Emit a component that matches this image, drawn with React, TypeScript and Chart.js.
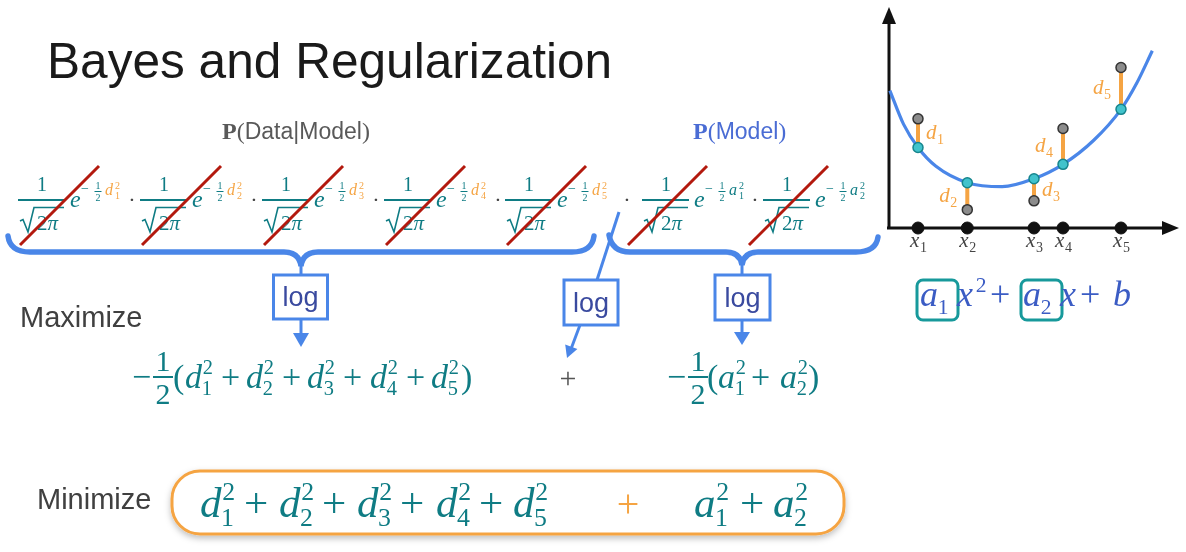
import React, { useEffect, useRef } from 'react';
import { Chart, registerables } from 'chart.js';

Chart.register(...registerables);

// ---- plot data (top-right sketch) ----
const sampleX = [1.0, 2.7, 5.0, 6.0, 8.0];
const observedY = [4.94, 0.83, 1.23, 4.5, 7.26];
const fittedY = [3.64, 2.05, 2.23, 2.88, 5.37];
const curveX = [0.03, 0.5, 1.0, 1.62, 2.7, 3.9, 5.0, 6.0, 7.06, 8.0, 8.54, 9.08];
const curveY = [6.22, 4.7, 3.64, 2.79, 2.05, 1.87, 2.23, 2.88, 3.97, 5.37, 6.55, 8.02];
const pointNames = ['1', '2', '3', '4', '5'];
const residualSide = ['right', 'left', 'right', 'left', 'left'];

const TEAL = '#0f7c84';
const ORANGE = '#f5a443';
const BLUE = '#4a86e8';
const RED = '#b3190e';
const SERIF = '"Liberation Serif", "DejaVu Serif", serif';
const SANS = '"Liberation Sans", Arial, sans-serif';

const axesPlugin = {
  id: 'axesArrows',
  beforeDatasetsDraw(chart: any) {
    const { ctx, chartArea } = chart;
    const { left, right, top, bottom } = chartArea;
    ctx.save();
    ctx.strokeStyle = '#111';
    ctx.fillStyle = '#111';
    ctx.lineWidth = 3;
    ctx.beginPath();
    ctx.moveTo(left - 2, bottom);
    ctx.lineTo(right - 12, bottom);
    ctx.moveTo(left, bottom + 1.5);
    ctx.lineTo(left, top + 12);
    ctx.stroke();
    ctx.beginPath();
    ctx.moveTo(right, bottom);
    ctx.lineTo(right - 17, bottom - 7);
    ctx.lineTo(right - 17, bottom + 7);
    ctx.closePath();
    ctx.fill();
    ctx.beginPath();
    ctx.moveTo(left, top);
    ctx.lineTo(left - 7, top + 17);
    ctx.lineTo(left + 7, top + 17);
    ctx.closePath();
    ctx.fill();
    ctx.restore();
  },
  afterDatasetsDraw(chart: any) {
    const { ctx, scales, chartArea } = chart;
    ctx.save();
    sampleX.forEach((xv, i) => {
      const px = scales.x.getPixelForValue(xv);
      // x_i under the axis
      ctx.fillStyle = '#444';
      ctx.font = `italic 21px ${SERIF}`;
      ctx.fillText('x', px - 8, chartArea.bottom + 19);
      ctx.font = `14px ${SERIF}`;
      ctx.fillText(pointNames[i], px + 2, chartArea.bottom + 24);
      // d_i next to the residual
      const mid = (scales.y.getPixelForValue(fittedY[i]) + scales.y.getPixelForValue(observedY[i])) / 2;
      const lx = residualSide[i] === 'right' ? px + 8 : px - 28;
      ctx.fillStyle = ORANGE;
      ctx.font = `italic 21px ${SERIF}`;
      ctx.fillText('d', lx, mid + 6);
      ctx.font = `14px ${SERIF}`;
      ctx.fillText(pointNames[i], lx + 11, mid + 11);
    });
    ctx.restore();
  },
};

function PlotChart() {
  const canvasRef = useRef<HTMLCanvasElement | null>(null);

  useEffect(() => {
    if (!canvasRef.current) return;
    const chart = new Chart(canvasRef.current, {
      type: 'scatter',
      data: {
        datasets: [
          {
            label: 'fitted',
            data: sampleX.map((x, i) => ({ x, y: fittedY[i] })),
            pointRadius: 5,
            pointBackgroundColor: '#41c3cc',
            pointBorderColor: '#16858d',
            pointBorderWidth: 1.5,
            order: 0,
            clip: false,
          },
          {
            label: 'observed',
            data: sampleX.map((x, i) => ({ x, y: observedY[i] })),
            pointRadius: 5,
            pointBackgroundColor: '#8c8c8c',
            pointBorderColor: '#333',
            pointBorderWidth: 1.5,
            order: 1,
            clip: false,
          },
          {
            label: 'inputs',
            data: sampleX.map((x) => ({ x, y: 0 })),
            pointRadius: 6,
            pointBackgroundColor: '#111',
            pointBorderColor: '#111',
            order: 2,
            clip: false,
          },
          {
            label: 'residuals',
            type: 'line',
            data: sampleX.flatMap((x, i) => [
              { x, y: fittedY[i] },
              { x, y: observedY[i] },
              { x, y: null },
            ]),
            borderColor: ORANGE,
            borderWidth: 4,
            pointRadius: 0,
            spanGaps: false,
            tension: 0,
            order: 3,
            clip: false,
          },
          {
            label: 'curve',
            type: 'line',
            data: curveX.map((x, i) => ({ x, y: curveY[i] })),
            borderColor: BLUE,
            borderWidth: 3.2,
            pointRadius: 0,
            cubicInterpolationMode: 'monotone',
            order: 4,
            clip: false,
          },
        ] as any,
      },
      options: {
        responsive: false,
        maintainAspectRatio: false,
        animation: false,
        events: [],
        layout: { padding: { left: 19, right: 3, top: 2, bottom: 32 } },
        scales: {
          x: { type: 'linear', min: 0, max: 10, display: false },
          y: { type: 'linear', min: 0, max: 10, display: false },
        },
        plugins: { legend: { display: false }, tooltip: { enabled: false } },
      },
      plugins: [axesPlugin],
    });
    return () => {
      chart.destroy();
    };
  }, []);

  return (
    <canvas
      ref={canvasRef}
      width={316}
      height={260}
      style={{ position: 'absolute', left: 870, top: 0, width: 316, height: 260 }}
    />
  );
}

// one "1/sqrt(2pi) e^{-1/2 v^2}" factor, crossed out
function Factor({ cx, name, idx, nameColor, slashFrom }: any) {
  return (
    <g fontFamily={SERIF}>
      <text x={cx} y={191} fontSize={20} textAnchor="middle" fill={TEAL}>1</text>
      <line x1={cx - 24} y1={200} x2={cx + 23} y2={200} stroke={TEAL} strokeWidth={2} />
      <polyline
        points={`${cx - 22},221 ${cx - 19},219.5 ${cx - 14},232 ${cx - 8},207.5 ${cx + 22},207.5`}
        fill="none"
        stroke={TEAL}
        strokeWidth={1.6}
      />
      <text x={cx - 5} y={230} fontSize={21} fill={TEAL}>
        2<tspan fontStyle="italic">π</tspan>
      </text>
      <text x={cx + 28} y={207} fontSize={24} fontStyle="italic" fill={TEAL}>e</text>
      <text x={cx + 39} y={193} fontSize={14} fill={TEAL}>−</text>
      <text x={cx + 56} y={189} fontSize={10} textAnchor="middle" fill={TEAL}>1</text>
      <line x1={cx + 52.5} y1={191.5} x2={cx + 59.5} y2={191.5} stroke={TEAL} strokeWidth={1} />
      <text x={cx + 56} y={201} fontSize={10} textAnchor="middle" fill={TEAL}>2</text>
      <text x={cx + 63} y={195} fontSize={16} fontStyle="italic" fill={nameColor}>{name}</text>
      <text x={cx + 73} y={189} fontSize={10} fill={nameColor}>2</text>
      <text x={cx + 73} y={198.5} fontSize={10} fill={nameColor}>{idx}</text>
      <line x1={cx + slashFrom} y1={245} x2={cx + slashFrom + 79} y2={166} stroke={RED} strokeWidth={3} />
    </g>
  );
}

function Scripted({ x, y, f, base, sup, sub, color }: any) {
  const sx = x + 0.52 * f;
  return (
    <g fill={color} fontFamily={SERIF}>
      <text x={x} y={y} fontSize={f} fontStyle="italic">{base}</text>
      {sup && <text x={sx} y={y - 0.4 * f} fontSize={0.6 * f}>{sup}</text>}
      {sub && <text x={sx - 0.03 * f} y={y + 0.22 * f} fontSize={0.6 * f}>{sub}</text>}
    </g>
  );
}

function Plain({ x, y, f, children, color, anchor }: any) {
  return (
    <text x={x} y={y} fontSize={f} fill={color} fontFamily={SERIF} textAnchor={anchor || 'start'}>
      {children}
    </text>
  );
}

function LogBox({ x, y, w, h }: any) {
  return (
    <g>
      <rect x={x} y={y} width={w} height={h} fill="#fff" stroke={BLUE} strokeWidth={3} />
      <text x={x + w / 2} y={y + h / 2 + 9} fontSize={27} textAnchor="middle" fill="#3a4a9f" fontFamily={SANS}>log</text>
    </g>
  );
}

const dFactorX = [42, 164, 286, 408, 529];
const aFactorX = [666, 787];
const dotX = [132, 254, 376, 498, 627, 755];
const midDX = [185, 246, 307, 370, 431];
const midPlusX = [221, 282, 343, 406];
const lowDX = [200, 279, 357, 436, 513];
const lowPlusX = [244, 322, 400, 479];

function Slide() {
  return (
    <svg
      width={1186}
      height={552}
      style={{ position: 'absolute', left: 0, top: 0, pointerEvents: 'none' }}
    >
      <defs>
        <filter id="shadow" x="-5%" y="-20%" width="110%" height="150%">
          <feDropShadow dx="0" dy="3" stdDeviation="3" floodColor="#000" floodOpacity="0.25" />
        </filter>
      </defs>

      <text x={47} y={78} fontSize={49.6} fill="#1a1a1a" fontFamily={SANS}>Bayes and Regularization</text>

      <text x={222} y={139} fill="#595959">
        <tspan fontFamily={SERIF} fontWeight="bold" fontSize={24}>P</tspan>
        <tspan fontFamily={SERIF} fontSize={24}>(</tspan>
        <tspan fontFamily={SANS} fontSize={23}>Data|Model</tspan>
        <tspan fontFamily={SERIF} fontSize={24}>)</tspan>
      </text>
      <text x={693} y={139} fill="#4a6cd4">
        <tspan fontFamily={SERIF} fontWeight="bold" fontSize={24}>P</tspan>
        <tspan fontFamily={SERIF} fontSize={24}>(</tspan>
        <tspan fontFamily={SANS} fontSize={23}>Model</tspan>
        <tspan fontFamily={SERIF} fontSize={24}>)</tspan>
      </text>

      {dFactorX.map((cx, i) => (
        <Factor key={'d' + i} cx={cx} name="d" idx={String(i + 1)} nameColor={ORANGE} slashFrom={-22} />
      ))}
      {aFactorX.map((cx, i) => (
        <Factor key={'a' + i} cx={cx} name="a" idx={String(i + 1)} nameColor={TEAL} slashFrom={-38} />
      ))}
      {dotX.map((x, i) => (
        <text key={'dot' + i} x={x} y={207} fontSize={22} textAnchor="middle" fill="#444" fontFamily={SERIF}>·</text>
      ))}

      {/* braces */}
      <path
        d="M8,236 Q10,252 30,252 L284,252 Q299,252 301,266 Q303,252 318,252 L572,252 Q592,252 594,236"
        fill="none" stroke={BLUE} strokeWidth={5.5} strokeLinecap="round"
      />
      <path
        d="M609,235 Q612,252 630,252 L726,252 Q740,252 742,265 Q744,252 758,252 L856,252 Q876,252 878,237"
        fill="none" stroke={BLUE} strokeWidth={5.5} strokeLinecap="round"
      />

      {/* arrows and log boxes */}
      <g stroke={BLUE} strokeWidth={3} fill={BLUE}>
        <line x1={301} y1={264} x2={301} y2={276} />
        <line x1={301} y1={318} x2={301} y2={336} />
        <polygon points="293,333 309,333 301,347" stroke="none" />
        <line x1={742} y1={263} x2={742} y2={276} />
        <line x1={742} y1={319} x2={742} y2={334} />
        <polygon points="734,332 750,332 742,345" stroke="none" />
        <line x1={619} y1={212} x2={597} y2={280} />
        <line x1={580} y1={325} x2={571} y2={349} />
        <polygon points="567,358 577.4,349.1 565.2,344.5" stroke="none" />
      </g>
      <LogBox x={273.5} y={275} w={54} h={44} />
      <LogBox x={564} y={280} w={54} h={45} />
      <LogBox x={715} y={275} w={55} h={45} />

      <text x={20} y={327} fontSize={29} fill="#404040" fontFamily={SANS}>Maximize</text>
      <text x={37} y={509} fontSize={29} fill="#404040" fontFamily={SANS}>Minimize</text>

      {/* -1/2 (d1^2 + ... + d5^2) */}
      <Plain x={132} y={388} f={34} color={TEAL}>−</Plain>
      <Plain x={163} y={371} f={30} color={TEAL} anchor="middle">1</Plain>
      <line x1={153} y1={377} x2={173} y2={377} stroke={TEAL} strokeWidth={2} />
      <Plain x={163} y={404} f={30} color={TEAL} anchor="middle">2</Plain>
      <Plain x={173} y={388} f={34} color={TEAL}>(</Plain>
      {midDX.map((x, i) => (
        <Scripted key={'md' + i} x={x} y={388} f={34} base="d" sup="2" sub={String(i + 1)} color={TEAL} />
      ))}
      {midPlusX.map((x, i) => (
        <Plain key={'mp' + i} x={x} y={388} f={34} color={TEAL}>+</Plain>
      ))}
      <Plain x={461} y={388} f={34} color={TEAL}>)</Plain>

      <Plain x={568} y={388} f={30} color="#555" anchor="middle">+</Plain>

      {/* -1/2 (a1^2 + a2^2) */}
      <Plain x={667} y={388} f={34} color={TEAL}>−</Plain>
      <Plain x={698} y={371} f={30} color={TEAL} anchor="middle">1</Plain>
      <line x1={688} y1={377} x2={708} y2={377} stroke={TEAL} strokeWidth={2} />
      <Plain x={698} y={404} f={30} color={TEAL} anchor="middle">2</Plain>
      <Plain x={707} y={388} f={34} color={TEAL}>(</Plain>
      <Scripted x={718} y={388} f={34} base="a" sup="2" sub="1" color={TEAL} />
      <Plain x={751} y={388} f={34} color={TEAL}>+</Plain>
      <Scripted x={780} y={388} f={34} base="a" sup="2" sub="2" color={TEAL} />
      <Plain x={808} y={388} f={34} color={TEAL}>)</Plain>

      {/* minimize box */}
      <rect x={172} y={471} width={672} height={63} rx={28} fill="#fff" stroke={ORANGE} strokeWidth={3} filter="url(#shadow)" />
      {lowDX.map((x, i) => (
        <Scripted key={'ld' + i} x={x} y={517} f={43} base="d" sup="2" sub={String(i + 1)} color={TEAL} />
      ))}
      {lowPlusX.map((x, i) => (
        <Plain key={'lp' + i} x={x} y={517} f={43} color={TEAL}>+</Plain>
      ))}
      <Plain x={628} y={517} f={40} color={ORANGE} anchor="middle">+</Plain>
      <Scripted x={694} y={517} f={43} base="a" sup="2" sub="1" color={TEAL} />
      <Plain x={740} y={517} f={43} color={TEAL}>+</Plain>
      <Scripted x={773} y={517} f={43} base="a" sup="2" sub="2" color={TEAL} />

      {/* model a1 x^2 + a2 x + b */}
      <rect x={917} y={280} width={41} height={40} rx={6} fill="none" stroke="#17999b" strokeWidth={3} />
      <rect x={1021} y={280} width={41} height={40} rx={6} fill="none" stroke="#17999b" strokeWidth={3} />
      <Scripted x={920} y={306} f={36} base="a" sub="1" color="#3b5cc4" />
      <Scripted x={957} y={306} f={36} base="x" sup="2" color="#3b5cc4" />
      <Plain x={990} y={306} f={36} color="#3b5cc4">+</Plain>
      <Scripted x={1023} y={306} f={36} base="a" sub="2" color="#3b5cc4" />
      <text x={1060} y={306} fontSize={36} fontStyle="italic" fill="#3b5cc4" fontFamily={SERIF}>x</text>
      <Plain x={1080} y={306} f={36} color="#3b5cc4">+</Plain>
      <text x={1113} y={306} fontSize={36} fontStyle="italic" fill="#3b5cc4" fontFamily={SERIF}>b</text>
    </svg>
  );
}

export default function App() {
  return (
    <div style={{ position: 'absolute', left: 0, top: 0, width: 1186, height: 552, background: '#fff', overflow: 'hidden' }}>
      <PlotChart />
      <Slide />
    </div>
  );
}
